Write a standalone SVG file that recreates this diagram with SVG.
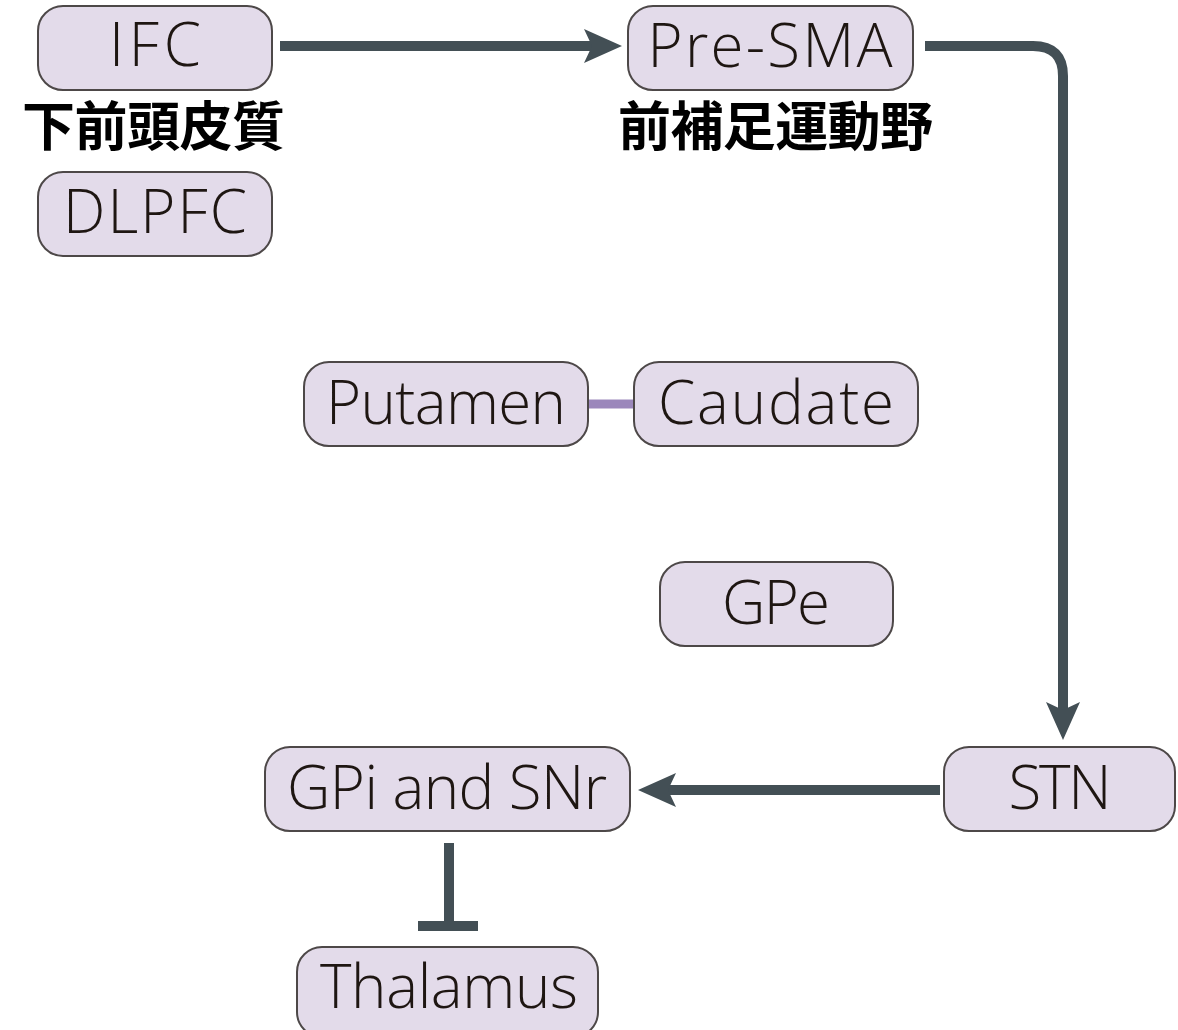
<svg xmlns="http://www.w3.org/2000/svg" width="1178" height="1030" viewBox="0 0 1178 1030">
<style>
.box{fill:#e3dbea;stroke:#4d4848;stroke-width:2}
.lbl{font-family:"Open Sans","Liberation Sans",sans-serif;font-size:60px;font-weight:300;fill:#1e1612;text-anchor:middle}
.cjk{font-family:"Noto Sans CJK JP","Noto Sans CJK TC",sans-serif;font-size:53px;font-weight:bold;fill:#000}
.con{stroke:#434f55;stroke-width:10;fill:none}
</style>
<rect width="1178" height="1030" fill="#fff"/>
<g id="connectors">
<line class="con" x1="280" y1="46" x2="595" y2="46"/>
<polygon points="622,46 584,29 592,46 584,63" fill="#434f55"/>
<path class="con" d="M925,46 H1033 Q1063,46 1063,76 V712"/>
<polygon points="1063,740 1046,702 1063,710 1080,702" fill="#434f55"/>
<line class="con" x1="940" y1="790" x2="665" y2="790"/>
<polygon points="638,790 676,773 668,790 676,807" fill="#434f55"/>
<line class="con" x1="449" y1="843" x2="449" y2="925"/>
<line class="con" x1="418" y1="926" x2="478" y2="926"/>
<line x1="588" y1="404" x2="634" y2="404" stroke="#9b87bb" stroke-width="9"/>
</g>
<g id="IFC"><rect class="box" x="38" y="6" width="234" height="84" rx="25"/><text class="lbl" x="155" y="66" textLength="92">IFC</text></g>
<g id="IFC-ja"><text class="cjk" x="22" y="146" textLength="263">下前頭皮質</text></g>
<g id="DLPFC"><rect class="box" x="38" y="172" width="234" height="84" rx="25"/><text class="lbl" x="155" y="233" textLength="184">DLPFC</text></g>
<g id="PreSMA"><rect class="box" x="628" y="6" width="285" height="84" rx="25"/><text class="lbl" x="770" y="67" textLength="245">Pre-SMA</text></g>
<g id="PreSMA-ja"><text class="cjk" x="618" y="146" textLength="315">前補足運動野</text></g>
<g id="Putamen"><rect class="box" x="304" y="362" width="284" height="84" rx="25"/><text class="lbl" x="446" y="424" textLength="240">Putamen</text></g>
<g id="Caudate"><rect class="box" x="634" y="362" width="284" height="84" rx="25"/><text class="lbl" x="776" y="424" textLength="236">Caudate</text></g>
<g id="GPe"><rect class="box" x="660" y="562" width="233" height="84" rx="25"/><text class="lbl" x="776" y="624" textLength="108">GPe</text></g>
<g id="GPi"><rect class="box" x="265" y="747" width="365" height="84" rx="25"/><text class="lbl" x="447" y="809" textLength="320">GPi and SNr</text></g>
<g id="STN"><rect class="box" x="944" y="747" width="231" height="84" rx="25"/><text class="lbl" x="1060" y="809" textLength="103">STN</text></g>
<g id="Thalamus"><rect class="box" x="297" y="947" width="301" height="90" rx="25"/><text class="lbl" x="449" y="1008" textLength="258">Thalamus</text></g>
</svg>
